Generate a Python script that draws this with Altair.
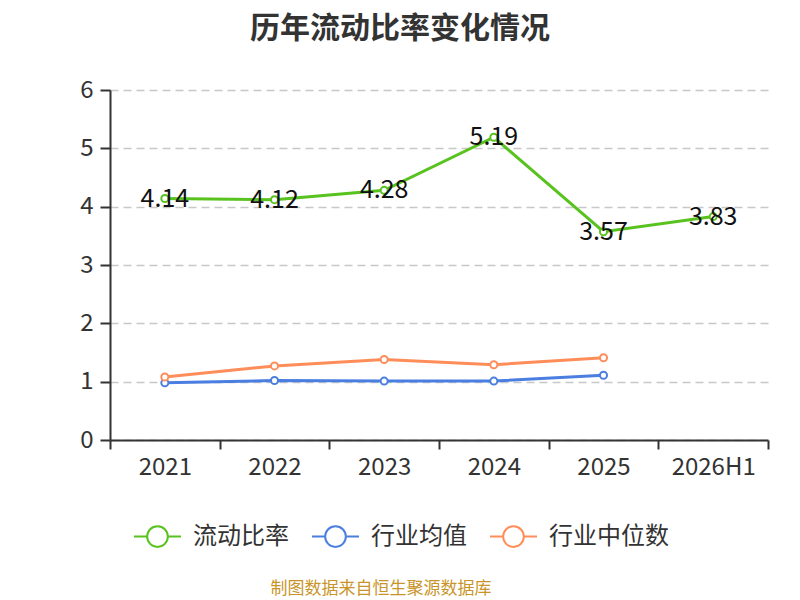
import altair as alt
import pandas as pd

years = ["2021", "2022", "2023", "2024", "2025", "2026H1"]
series = ["流动比率", "行业均值", "行业中位数"]
colors = ["#58c21e", "#4a7ee0", "#ff8d5a"]

ratio = [4.14, 4.12, 4.28, 5.19, 3.57, 3.83]
ind_mean = [0.98, 1.02, 1.01, 1.01, 1.11]
ind_median = [1.08, 1.27, 1.38, 1.29, 1.41]

footer = "制图数据来自恒生聚源数据库"
title = "历年流动比率变化情况"

rows = []
for name, vals in zip(series, [ratio, ind_mean, ind_median]):
    for y, v in zip(years, vals):
        rows.append({"year": y, "value": v, "series": name})
df = pd.DataFrame(rows)

# legend symbol: short line - open circle - short line
sym = ("M-1,0L-0.44,0M0.44,0L1,0"
       "M0.44,0A0.44,0.44,0,1,1,-0.44,0A0.44,0.44,0,1,1,0.44,0")

legend = alt.Legend(
    title=None, orient="none", direction="horizontal",
    legendX=23, legendY=422,
    symbolType=sym, symbolSize=2209, symbolStrokeWidth=2,
    symbolFillColor="white", labelFontSize=24, labelColor="#333",
    labelOffset=11, columnPadding=19,
)

base = alt.Chart(df).encode(
    x=alt.X("year:N", sort=years, bandPosition=0.5,
            scale=alt.Scale(type="band", paddingInner=0, paddingOuter=0),
            axis=alt.Axis(title=None, labelAngle=0, tickBand="extent",
                          tickSize=9, labelPadding=6, grid=False)),
    y=alt.Y("value:Q", scale=alt.Scale(domain=[0, 6]),
            axis=alt.Axis(title=None, values=[0, 1, 2, 3, 4, 5, 6],
                          format="d", tickSize=10, labelPadding=7,
                          grid=True, gridDash=[8, 5], gridColor="#c8c8c8",
                          gridWidth=1.5)),
    color=alt.Color("series:N", sort=series,
                    scale=alt.Scale(domain=series, range=colors),
                    legend=legend),
)

lines = base.mark_line(strokeWidth=3)
points = base.mark_point(filled=False, fill="white", size=50,
                         strokeWidth=2, opacity=1)

labels = alt.Chart(df[df["series"] == series[0]]).mark_text(
    fontSize=25, color="#111", baseline="middle"
).encode(
    x=alt.X("year:N", sort=years, bandPosition=0.5),
    y="value:Q",
    text=alt.Text("value:Q", format=".2f"),
)

note = alt.Chart(pd.DataFrame({"t": [footer]})).mark_text(
    fontSize=17, color="#c9952b"
).encode(text="t:N", x=alt.value(271), y=alt.value(499))

chart = alt.layer(lines, points, labels, note).properties(
    width=658, height=350,
    autosize="none",
    padding={"left": 102, "top": 82, "right": 24, "bottom": 160},
    title=alt.Title(title, fontSize=30, fontWeight="bold", color="#333",
                    anchor="middle", dx=-39, offset=34),
).configure(
    font="Noto Sans CJK SC",
).configure_axis(
    labelFontSize=24, labelColor="#333", domainColor="#333",
    domainWidth=2, tickColor="#333", tickWidth=2,
).configure_view(stroke=None)

chart.save("out.html", embed_options={"renderer": "svg", "actions": False})
